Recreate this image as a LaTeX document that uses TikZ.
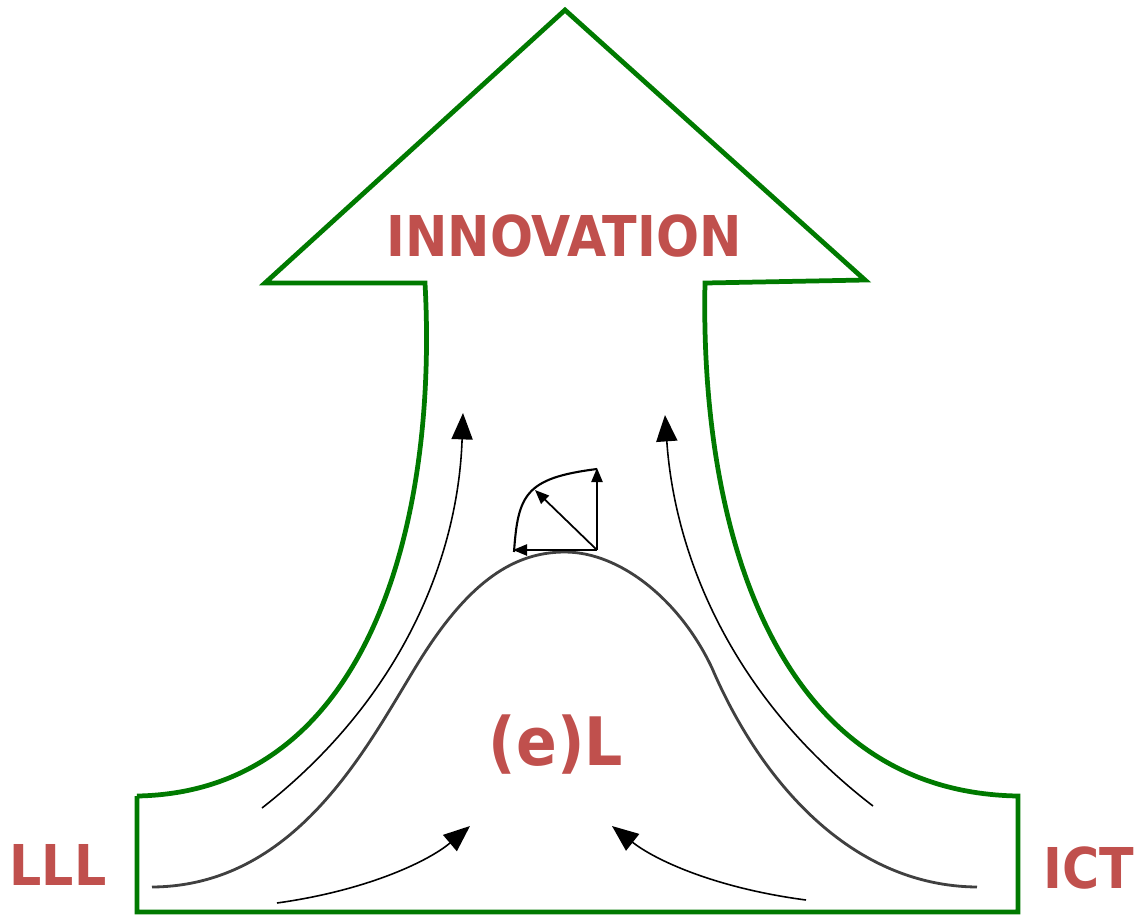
\documentclass[tikz,border=0pt]{standalone}
\usepackage{fontspec}
\setmainfont{DejaVu Sans}[FakeStretch=0.9]
\usetikzlibrary{arrows.meta}

\definecolor{rotbraun}{RGB}{192,80,77}
\definecolor{pfeilgruen}{RGB}{0,122,0}

\tikzset{
  umriss/.style={draw=pfeilgruen, line width=1.35pt, line join=miter},
  fluss/.style={-{Triangle[length=7.5pt,width=6pt]}, line width=0.45pt},
  klein/.style={-{Triangle[length=4pt,width=3.2pt]}, line width=0.5pt},
  schrift/.style={text=rotbraun, font=\bfseries\fontsize{16}{19}\selectfont}
}

\begin{document}
\begin{tikzpicture}[x=0.01cm, y=-0.01cm]
  \useasboundingbox (0,0) rectangle (1138,917);

  % Grosser gruener Pfeil (Umriss)
  \draw[umriss] (137,796) -- (137,912) -- (1018,912) -- (1018,796)
    .. controls (770,792) and (700,520) .. (705,283)
    -- (865,280) -- (565,10) -- (265,283) -- (425,283)
    .. controls (438,520) and (370,792) .. (137,796);

  % Glockenkurve
  \draw[line width=0.8pt, black!75] (152,887)
    .. controls (300,886) and (370,740) .. (420,660)
    .. controls (470,580) and (515,552) .. (565,552)
    .. controls (620,552) and (680,600) .. (712,668)
    .. controls (760,780) and (850,886) .. (977,887);

  % Lange Pfeile entlang des Schafts
  \draw[fluss] (262,808) .. controls (400,700) and (458,560) .. (463,413);
  \draw[fluss] (873,806) .. controls (735,700) and (675,560) .. (665,415);

  % Kurze Pfeile unten
  \draw[fluss] (277,903) .. controls (370,890) and (430,860) .. (470,826);
  \draw[fluss] (806,900) .. controls (715,888) and (655,860) .. (612,826);

  % Kleines Vektorbuendel auf dem Gipfel
  \coordinate (fuss) at (597,550);
  \draw[klein] (fuss) -- (513,550);
  \draw[klein] (fuss) -- (535,490);
  \draw[klein] (fuss) -- (597,468);
  \draw[line width=0.6pt] (514,552) .. controls (518,495) and (525,478) .. (597,469);

  % Beschriftungen
  \node[schrift] (innovation) at (564,236) {INNOVATION};
  \node[schrift, font=\bfseries\fontsize{19}{22}\selectfont] (elearning) at (556,745) {(e)L};
  \node[schrift] (lll) at (58,865) {LLL};
  \node[schrift] (ict) at (1089,868) {ICT};
\end{tikzpicture}
\end{document}
